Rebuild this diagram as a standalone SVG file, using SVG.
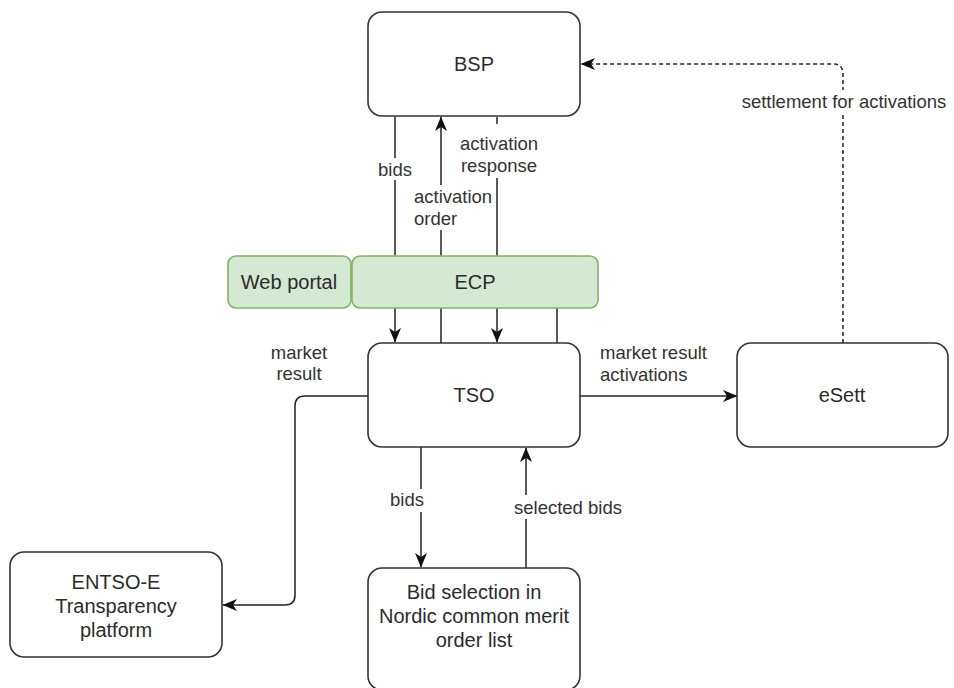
<svg xmlns="http://www.w3.org/2000/svg" width="954" height="688" viewBox="0 0 954 688">
<style>
.node{fill:#ffffff;stroke:#333333;stroke-width:1.6}
.green{fill:#d5e8d4;stroke:#82b366;stroke-width:1.6}
.nt{font-family:"Liberation Sans",Arial,sans-serif;font-size:20px;fill:#2b2b2b;text-anchor:middle;dominant-baseline:central}
.lt{font-family:"Liberation Sans",Arial,sans-serif;font-size:18.5px;fill:#333333;dominant-baseline:central}
.edge{fill:none;stroke:#222222;stroke-width:1.5}
.dash{stroke-dasharray:4 3}
.bg{fill:#ffffff;stroke:none}
</style>
<defs>
<marker id="arr" viewBox="0 0 15 13" refX="14" refY="6.5" markerWidth="15" markerHeight="13" orient="auto" markerUnits="userSpaceOnUse">
<path d="M0,0.5 L14.5,6.5 L0,12.5 L4,6.5 Z" fill="#111111"/>
</marker>
</defs>
<g id="connectors">
<path class="edge" d="M395,117 V342" marker-end="url(#arr)"/>
<rect class="bg" x="375" y="158" width="39" height="22"/>
<text class="lt" x="395" y="169" text-anchor="middle">bids</text>
<path class="edge" d="M441,343 V117" marker-end="url(#arr)"/>
<rect class="bg" x="412" y="185" width="82" height="45"/>
<text class="lt" x="414" y="196">activation</text>
<text class="lt" x="414" y="218">order</text>
<path class="edge" d="M497,117 V342" marker-end="url(#arr)"/>
<rect class="bg" x="458" y="124" width="83" height="54"/>
<text class="lt" x="499" y="143" text-anchor="middle">activation</text>
<text class="lt" x="499" y="165" text-anchor="middle">response</text>
<path class="edge" d="M557,343 V308"/>
<path class="edge" d="M368,396 H305 Q295,396 295,406 V595 Q295,605 285,605 H223" marker-end="url(#arr)"/>
<text class="lt" x="299" y="352" text-anchor="middle">market</text>
<text class="lt" x="299" y="373" text-anchor="middle">result</text>
<path class="edge" d="M580,396 H737" marker-end="url(#arr)"/>
<text class="lt" x="600" y="352">market result</text>
<text class="lt" x="600" y="374">activations</text>
<path class="edge" d="M421,447 V567" marker-end="url(#arr)"/>
<rect class="bg" x="387" y="489" width="40" height="23"/>
<text class="lt" x="407" y="499" text-anchor="middle">bids</text>
<path class="edge" d="M526,568 V448" marker-end="url(#arr)"/>
<rect class="bg" x="510" y="495" width="117" height="24"/>
<text class="lt" x="568" y="507" text-anchor="middle">selected bids</text>
<path class="edge dash" d="M843,343 V74 Q843,64 833,64 H581" marker-end="url(#arr)"/>
<rect class="bg" x="736" y="90" width="215" height="22"/>
<text class="lt" x="844" y="101" text-anchor="middle">settlement for activations</text>
</g>
<g id="bsp">
<rect class="node" x="368" y="12" width="212" height="104" rx="14"/>
<text class="nt" x="474" y="64">BSP</text>
</g>
<g id="webportal">
<rect class="green" x="228" y="256" width="123" height="52" rx="8"/>
<text class="nt" x="289" y="282">Web portal</text>
</g>
<g id="ecp">
<rect class="green" x="352" y="256" width="246" height="52" rx="8"/>
<text class="nt" x="475" y="282">ECP</text>
</g>
<g id="tso">
<rect class="node" x="368" y="343" width="212" height="104" rx="14"/>
<text class="nt" x="474" y="395">TSO</text>
</g>
<g id="esett">
<rect class="node" x="737" y="343" width="211" height="104" rx="14"/>
<text class="nt" x="842" y="395">eSett</text>
</g>
<g id="entsoe">
<rect class="node" x="10" y="552" width="212" height="105" rx="14"/>
<text class="nt" x="116" y="582">ENTSO-E</text>
<text class="nt" x="116" y="606">Transparency</text>
<text class="nt" x="116" y="630">platform</text>
</g>
<g id="bidselection">
<rect class="node" x="368" y="568" width="212" height="122" rx="14"/>
<text class="nt" x="474" y="592">Bid selection in</text>
<text class="nt" x="474" y="616">Nordic common merit</text>
<text class="nt" x="474" y="640">order list</text>
</g>
</svg>
